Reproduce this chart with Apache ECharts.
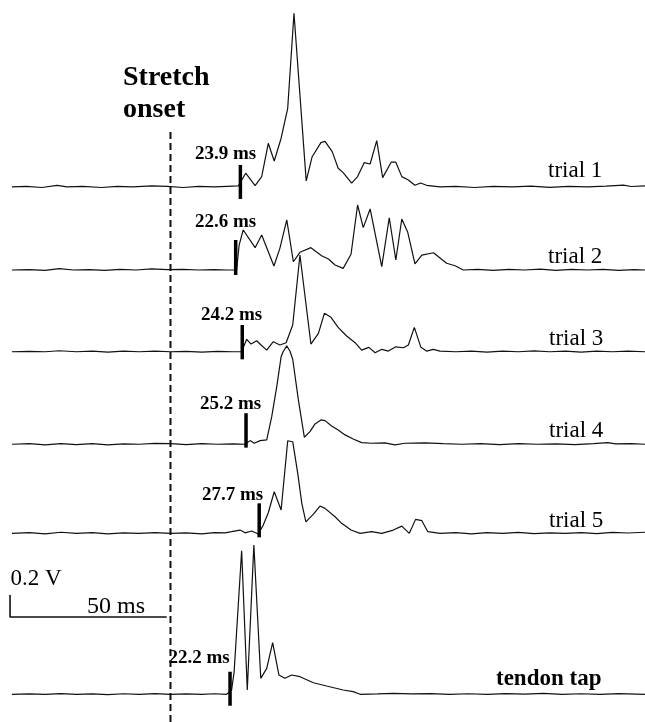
<!DOCTYPE html>
<html><head><meta charset="utf-8">
<script src="https://cdn.jsdelivr.net/npm/echarts@6/dist/echarts.min.js"></script>
<style>html,body{margin:0;padding:0;background:#fff}#c{width:645px;height:722px}</style>
</head><body><div id="c"></div>
<script>
// ---- data (time in ms after stretch onset, amplitude in V relative to each trace's baseline) ----
const traceNames = ['trial 1', 'trial 2', 'trial 3', 'trial 4', 'trial 5', 'tendon tap'];
const latencyLabels = ['23.9 ms', '22.6 ms', '24.2 ms', '25.2 ms', '27.7 ms', '22.2 ms'];
const onsetMarkTimes = [22.3, 20.8, 22.9, 24.1, 28.3, 19.0];
const onsetMarkLow = [-0.109, -0.045, -0.069, -0.031, -0.036, -0.104];
const onsetMarkHigh = [0.2, 0.273, 0.243, 0.282, 0.273, 0.205];

const trial1 = [
[-50.6,0],[-46,0.005],[-41,-0.005],[-36.2,0.014],[-33,0],[-28,0.005],[-22,-0.005],[-17,0.005],[-12,0],[-6,0.009],[-1,0.005],[4,-0.005],[9,0.005],[14,0],[18,0.005],[21.6,0.009],
[24.0,0.125],[27.0,0.012],[29.1,0.094],[31.2,0.397],[33.1,0.236],[35.3,0.443],[37.4,0.715],[39.4,1.579],[43.3,0.055],[45.2,0.275],[48.0,0.403],[49.3,0.415],[51.6,0.321],[53.5,0.170],[55.1,0.130],[57.8,0.034],[59.7,0.094],[61.8,0.221],[63.7,0.209],[65.8,0.421],[67.7,0.085],[70.4,0.225],[71.9,0.225],[73.8,0.094],[75.9,0.064],[78.0,0.015],[79.8,0.036],[81.7,0.015],[86.0,0],
[91,0.005],[97,-0.005],[103,0.005],[109,0],[115,0.007],[121,-0.004],[127,0.005],[133,0],[139,0.007],[144.5,0.016],[147,0.004],[151.4,0.009]
];
const trial2 = [
[-50.6,0],[-45,0.004],[-40,-0.004],[-35.5,0.012],[-31,0],[-26,0.004],[-21,-0.004],[-16,0.006],[-11,0],[-6,0.01],[-1,0.004],[4,0.006],[9,0],[14,0.004],[18,0],[21.1,0],
[21.9,0.227],[23.2,0.364],[27.0,0.203],[29.1,0.318],[33.0,0.036],[34.9,0.197],[37.1,0.455],[39.2,0.075],[41.3,0.161],[44.8,0.203],[48.2,0.130],[50.4,0.1],[52.5,0.045],[55.1,0.015],[57.6,0.143],[59.7,0.591],[61.5,0.385],[63.7,0.555],[67.4,0.03],[69.8,0.475],[71.9,0.091],[73.8,0.464],[75.7,0.343],[78.0,0.055],[80.2,0.136],[83.9,0.157],[88.1,0.061],[90.8,0.039],[93.4,0],
[98,0.005],[103,-0.004],[108,0.006],[113,0],[118,0.008],[123,-0.003],[128,0.006],[133,0],[138,0.005],[143,-0.003],[148,0.004],[151.4,0]
];
const trial3 = [
[-50.6,0],[-45,0.004],[-40,0],[-35.5,0.009],[-30,0],[-25,0.005],[-20,-0.004],[-15,0.005],[-10,0],[-5,0.006],[0,0],[5,0.004],[10,-0.003],[15,0.004],[20,0],[22.7,0],
[24.3,0.113],[25.7,0.07],[27.5,0.1],[28.9,0.061],[30.7,0.015],[32.8,0.091],[34.9,0.061],[36.9,0.082],[39.0,0.243],[41.3,0.879],[44.8,0.07],[47.2,0.167],[49.1,0.349],[51.2,0.313],[53.5,0.222],[56.2,0.143],[58.9,0.082],[61.0,0.015],[63.3,0.04],[65.3,-0.009],[67.4,0.022],[69.5,0.006],[71.9,0.045],[74.3,0.036],[75.9,0.061],[77.8,0.222],[79.9,0.04],[81.7,0.006],[83.9,0.022],[86.0,0.006],
[91,0],[96,0.005],[101,-0.004],[106,0.006],[111,0],[116,0.008],[121,0],[126,0.005],[131,-0.003],[136,0.006],[141,0],[146,0.005],[151.4,0]
];
const trial4 = [
[-50.6,0],[-45,0.005],[-40,-0.005],[-35,0.006],[-30,-0.004],[-25,0.005],[-20,-0.005],[-15,0.004],[-10,0],[-5,0.008],[0,0.006],[5,-0.004],[10,0.005],[15,0],[20,0.004],[23.8,0],
[25.4,0.033],[26.7,0.009],[28.6,0.033],[30.7,0.039],[32.3,0.251],[33.9,0.524],[35.3,0.796],[35.9,0.839],[37.1,0.894],[38.1,0.848],[39.0,0.773],[40.8,0.403],[42.7,0.064],[44.5,0.115],[46.1,0.185],[48.0,0.221],[49.3,0.215],[51.4,0.166],[53.5,0.13],[55.7,0.085],[58.3,0.048],[61.0,0.015],[64.2,0.009],[68.4,0.012],[71.6,-0.006],[74.8,0.009],[81.2,0.012],
[87,0.005],[93,0],[99,0.006],[105,-0.003],[111,0.005],[117,0],[123,0.004],[129,-0.003],[135,0.006],[139.5,0.015],[142,0.003],[147,0.006],[151.4,0]
];
const trial5 = [
[-50.6,0],[-45,0.006],[-40,-0.005],[-35,0.01],[-30,0],[-25,0.006],[-20,-0.004],[-15,0.005],[-10,0],[-5,0.006],[0,0],[5,0.005],[10,-0.004],[14,0.006],[17.4,0.005],[19.5,0.015],[22.2,0.03],[23.8,0.005],[25.9,0.021],[28.0,-0.006],
[29.6,0.075],[31.2,0.187],[33.1,0.378],[35.3,0.212],[37.4,0.842],[39.0,0.833],[40.6,0.545],[41.9,0.273],[43.2,0.105],[45.6,0.175],[47.7,0.248],[49.3,0.227],[52.5,0.151],[54.6,0.091],[57.6,0.03],[60.5,0],[64.2,0.015],[67.4,0],[71.1,0.03],[73.8,0.066],[76.2,0],[78.2,0.127],[80.2,0.115],[82.1,0.015],[86.0,0],
[91,0.006],[96,-0.004],[101,0.006],[106,0],[111,0.008],[116,-0.003],[121,0.005],[126,0],[131,0.006],[136,-0.003],[141,0.008],[146,0.003],[151.4,0.01]
];
const tendonTap = [
[-50.6,0],[-45,0.004],[-40,0],[-35,0.006],[-30,0],[-25,0.004],[-20,-0.003],[-15,0.005],[-10,0],[-5,0.006],[0,0],[5,0.004],[10,0],[14,0.005],[17.9,0],
[19.5,0.039],[20.3,0.203],[22.7,1.305],[24.5,0.039],[26.6,1.357],[28.8,0.145],[30.7,0.236],[32.6,0.469],[34.6,0.175],[36.5,0.145],[38.7,0.175],[41.3,0.16],[45.6,0.105],[49.8,0.075],[55.1,0.039],[58.3,0.024],[60.5,0],[66,0.004],[71.1,0.009],[77,0.003],[83,0.006],[89,0],
[95,0.005],[101,0],[107,0.006],[113,0.002],[119,0.008],[125,0],[131,0.005],[137,0],[143,0.006],[151.4,0]
];
const scaleBarMs = 50;
const scaleBarV = 0.2;

// ---- layout ----
const traces = [trial1, trial2, trial3, trial4, trial5, tendonTap];
const traceBaselines = [4.864, 4.109, 3.366, 2.525, 1.715, 0.252];
const scaleBarOrigin = [-51.2, 0.955];
const onsetLineTop = 5.366;

const INK = '#111';
const SERIF = '"Liberation Serif","Times New Roman",serif';

const series = [];
traces.forEach((tr, i) => {
  const b = traceBaselines[i];
  series.push({
    type: 'line', symbol: 'none', silent: true, animation: false,
    data: tr.map(p => [p[0], p[1] + b]),
    lineStyle: { color: INK, width: 1.2 }
  });
  series.push({
    type: 'line', symbol: 'none', silent: true, animation: false,
    data: [[onsetMarkTimes[i], b + onsetMarkLow[i]], [onsetMarkTimes[i], b + onsetMarkHigh[i]]],
    lineStyle: { color: '#000', width: 3.5, cap: 'butt' }
  });
});
// stretch onset dashed line
series.push({
  type: 'line', symbol: 'none', silent: true, animation: false,
  data: [[0, 0], [0, onsetLineTop]],
  lineStyle: { color: INK, width: 2, type: [7, 4] }
});
// scale bar
series.push({
  type: 'line', symbol: 'none', silent: true, animation: false,
  data: [[scaleBarOrigin[0], scaleBarOrigin[1] + scaleBarV], [scaleBarOrigin[0], scaleBarOrigin[1]], [scaleBarOrigin[0] + scaleBarMs, scaleBarOrigin[1]]],
  lineStyle: { color: INK, width: 1.6 }
});

function txt(text, x, y, size, bold) {
  return {
    type: 'text', x: x, y: y, silent: true,
    style: {
      text: text, fill: '#000',
      font: (bold ? 'bold ' : '') + size + 'px ' + SERIF,
      align: 'left', verticalAlign: 'middle',
      textAlign: 'left', textVerticalAlign: 'middle'
    }
  };
}
const latencyPos = [[195, 154], [195, 222], [201, 315], [200, 404], [202, 495], [168.5, 658]];
const namePos = [[548, 171], [548, 257], [549, 339], [549, 431], [549, 521], [496, 679]];
const graphics = [
  txt('Stretch', 123, 78, 28, true),
  txt('onset', 123, 110, 28, true),
  txt('0.2 V', 10.5, 579, 23, false),
  txt('50 ms', 87, 607, 24, false)
];
latencyLabels.forEach((t, i) => graphics.push(txt(t, latencyPos[i][0], latencyPos[i][1], 19, true)));
traceNames.forEach((t, i) => graphics.push(txt(t, namePos[i][0], namePos[i][1], 23, i === 5)));

const chart = echarts.init(document.getElementById('c'), null, { renderer: 'canvas' });
chart.setOption({
  animation: false,
  backgroundColor: '#fff',
  grid: { left: 0, right: 0, top: 0, bottom: 0, containLabel: false },
  xAxis: { type: 'value', min: -54.4, max: 151.4, show: false },
  yAxis: { type: 'value', min: 0, max: 6.5636, show: false },
  series: series,
  graphic: { elements: graphics }
});
</script>
</body></html>
